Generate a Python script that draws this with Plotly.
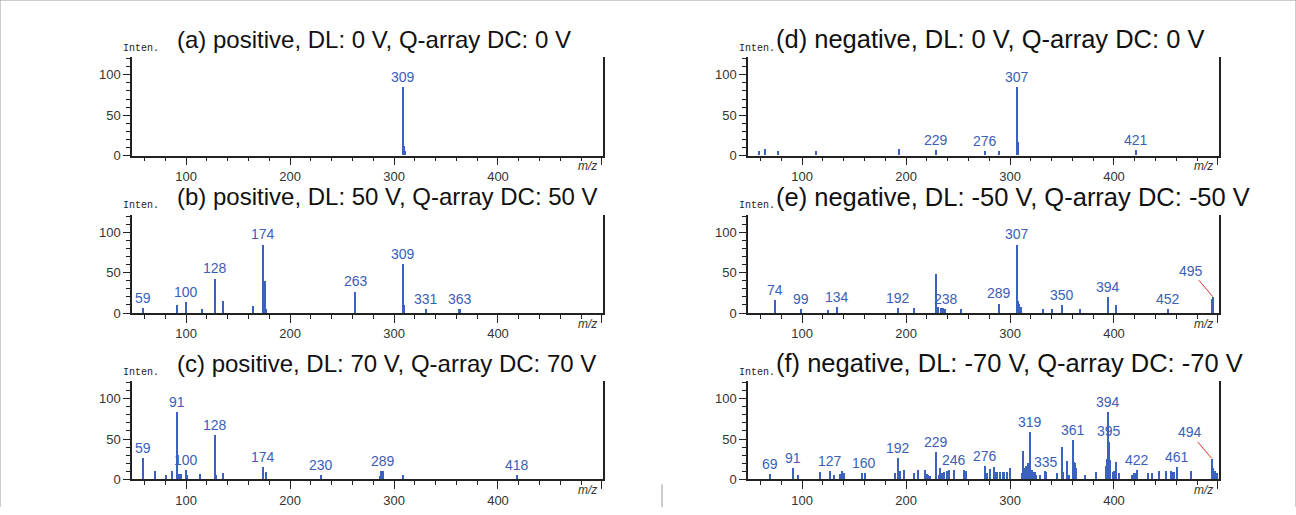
import plotly.graph_objects as go

# ---------------- data ----------------
titles = [
    "(a) positive, DL: 0 V, Q-array DC: 0 V",
    "(b) positive, DL: 50 V, Q-array DC: 50 V",
    "(c) positive, DL: 70 V, Q-array DC: 70 V",
    "(d) negative, DL: 0 V, Q-array DC: 0 V",
    "(e) negative, DL: -50 V, Q-array DC: -50 V",
    "(f) negative, DL: -70 V, Q-array DC: -70 V",
]

a_mz = [309, 310, 311]
a_int = [85, 12, 5]
a_lab = [309]

b_mz = [59, 91, 100, 115, 128, 136, 164, 174, 175, 176, 177, 263, 309, 310, 331, 363, 364]
b_int = [6.5, 10.5, 14, 5, 43, 15, 9, 85, 15, 40, 5, 27, 61, 10.5, 5, 5, 5]
b_lab = [59, 100, 128, 174, 263, 309, 331, 363]

c_mz = [59, 70, 81, 87, 91, 93, 95, 100, 101, 113, 128, 129, 136, 174, 177, 230, 287, 288, 289, 309, 418]
c_int = [27, 11, 5, 10, 84, 7, 6.5, 12, 5, 7, 55, 6, 8.5, 16, 9, 6, 4, 11, 11, 5, 5]
c_lab = [59, 91, 100, 128, 174, 230, 289, 418]

d_mz = [59, 64, 77, 113, 193, 229, 276, 289, 307, 308, 421]
d_int = [5.7, 8, 5.7, 5.7, 7.7, 6.5, 5.7, 6, 84.5, 17, 7.3]
d_lab = [229, 276, 307, 421]

e_mz = [74, 99, 125, 134, 192, 208, 229, 231, 234, 236, 238, 253, 289, 307, 308, 309, 310, 311,
        332, 340, 350, 367, 394, 402, 452, 494, 495]
e_int = [16.7, 5.3, 4.5, 8, 6.5, 6.5, 49, 8, 6.5, 6.5, 5.6, 5.3, 12.2, 85, 15, 12, 7, 8,
         6, 5.3, 10.6, 5.3, 20, 10.6, 5.6, 18, 20.3]
e_lab = [74, 99, 134, 192, 238, 289, 307, 350, 394, 452]
e_arrow = [495]

f_mz = [69, 91, 96, 117, 127, 131, 137, 138, 140, 158, 161, 189, 192, 194, 198, 208, 212, 218,
        220, 221, 223, 229, 232, 233, 235, 237, 239, 241, 246, 256, 258,
        276, 277, 278, 281, 285, 287, 288, 290, 293, 294, 297, 300, 312, 313, 314, 315, 317, 319,
        320, 321, 323, 324, 325, 329, 334, 335, 345, 350, 351, 355, 357, 361, 362, 363, 364, 372,
        383, 392, 393, 394, 395, 396, 399, 400, 402, 405, 417, 419, 421, 422, 433, 437, 443, 450,
        455, 456, 458, 461, 474, 494, 495, 497, 499]
f_int = [6.5, 14, 5, 9, 10, 5, 7, 10, 8.5, 8.5, 8.5, 7.7, 27, 11, 12, 7.7, 12, 12,
         6.5, 5, 4.5, 34.5, 5, 14, 8, 9, 11, 12, 12, 12, 10.5,
         17, 5, 8, 13, 16, 9, 9.7, 9.7, 9, 9, 9, 14, 8, 35, 14, 17, 20, 58.5,
         11, 12, 9.7, 9, 5.7, 5, 10, 9, 8, 40, 9, 23, 5.7, 49, 22, 21, 13.8, 5.7,
         9, 17, 25, 84, 47, 24, 9.7, 11, 22, 8, 5, 8, 8, 12, 8, 8, 10, 10,
         11, 9.7, 9, 15, 11, 26, 14, 10, 8]
f_lab = [69, 91, 127, 160, 192, 229, 246, 276, 319, 335, 361, 394, 395, 422, 461]
f_arrow = [494]

panels = [
    (a_mz, a_int, a_lab, []),
    (b_mz, b_int, b_lab, []),
    (c_mz, c_int, c_lab, []),
    (d_mz, d_int, d_lab, []),
    (e_mz, e_int, e_lab, e_arrow),
    (f_mz, f_int, f_lab, f_arrow),
]

x_range = [48, 501]
y_range = [0, 122]
x_tickvals = [100, 200, 300, 400, 500]
x_ticktext = ["100", "200", "300", "400", ""]
y_tickvals = [0, 50, 100]

# ---------------- layout geometry (pixels) ----------------
W, H = 1296, 515
col_x = [(132, 603), (748, 1219)]
row_zero = [158, 318, 487]
px_per_unit_y = 0.82
title_x = [175, 774]
title_size = [24, 25.5]

BAR = "#3b62bd"
LABEL = "#3a60b8"
FONT = "Liberation Sans, Arial, sans-serif"

fig = go.Figure()
annotations = []
shapes = []


def lookup(mz_list, int_list, m):
    best = min(range(len(mz_list)), key=lambda i: abs(mz_list[i] - m))
    return mz_list[best], int_list[best]


for i, (mz, inten, labs, arrows) in enumerate(panels):
    col = i // 3
    row = i % 3
    n = i + 1
    xa = "x" if n == 1 else f"x{n}"
    ya = "y" if n == 1 else f"y{n}"
    x0, x1 = col_x[col]
    z = row_zero[row]
    top = z - (y_range[1] - y_range[0]) * px_per_unit_y
    fig.add_trace(go.Bar(x=mz, y=inten, width=1.1, marker=dict(color=BAR, line=dict(width=0)),
                         xaxis=xa, yaxis=ya, showlegend=False, hoverinfo="x+y"))
    axkey = "xaxis" if n == 1 else f"xaxis{n}"
    aykey = "yaxis" if n == 1 else f"yaxis{n}"
    fig.update_layout(**{
        axkey: dict(domain=[x0 / W, x1 / W], range=x_range, anchor=ya,
                    showline=True, linecolor="#222", linewidth=1.5,
                    ticks="outside", ticklen=8, tickwidth=1, tickcolor="#222",
                    tickvals=x_tickvals, ticktext=x_ticktext,
                    minor=dict(dtick=20, tick0=0, ticklen=4, tickcolor="#222", ticks="outside", showgrid=False),
                    showgrid=False, zeroline=False,
                    tickfont=dict(family=FONT, size=13, color="#333")),
        aykey: dict(domain=[1 - z / H, 1 - top / H], range=y_range, anchor=xa,
                    showline=True, linecolor="#222", linewidth=1.5, mirror=True,
                    ticks="outside", ticklen=7, tickwidth=1, tickcolor="#222",
                    tickvals=y_tickvals,
                    minor=dict(dtick=10, tick0=0, ticklen=4, tickcolor="#222", ticks="outside", showgrid=False),
                    showgrid=False, zeroline=False,
                    tickfont=dict(family=FONT, size=13, color="#333")),
    })
    for m in labs:
        px_, py_ = lookup(mz, inten, m)
        annotations.append(dict(x=m, y=py_, xref=xa, yref=ya, text=str(m), showarrow=False,
                                yanchor="bottom", xanchor="center", yshift=0,
                                font=dict(family=FONT, size=14, color=LABEL)))
    for m in arrows:
        px_, py_ = lookup(mz, inten, m)
        annotations.append(dict(x=m, y=py_, xref=xa, yref=ya, text=str(m), showarrow=True,
                                arrowhead=0, arrowwidth=1, arrowcolor="#e03030",
                                ax=-22, ay=-26, standoff=0,
                                font=dict(family=FONT, size=14, color=LABEL)))
    # panel title
    annotations.append(dict(x=title_x[col] / W, y=1 - (z - 118) / H, xref="paper", yref="paper",
                            text=titles[i], showarrow=False, xanchor="left", yanchor="middle",
                            font=dict(family=FONT, size=title_size[col], color="#111")))
    # Inten. label
    annotations.append(dict(x=(x0 - 11) / W, y=1 - (z - 109) / H, xref="paper", yref="paper",
                            text="Inten.", showarrow=False, xanchor="left", yanchor="middle",
                            font=dict(family="Liberation Mono, monospace", size=10, color="#222")))
    # m/z label
    annotations.append(dict(x=(x1 - 4) / W, y=1 - (z + 11) / H, xref="paper", yref="paper",
                            text="<i>m/z</i>", showarrow=False, xanchor="right", yanchor="middle",
                            font=dict(family=FONT, size=12, color="#333")))

# outer frame (top, left, right) and short divider at bottom
FRAME = "#999"
shapes.append(dict(type="line", xref="paper", yref="paper", x0=0, y0=1, x1=1, y1=1,
                   line=dict(color=FRAME, width=1)))
shapes.append(dict(type="line", xref="paper", yref="paper", x0=0, y0=0, x1=0, y1=1,
                   line=dict(color=FRAME, width=1)))
shapes.append(dict(type="line", xref="paper", yref="paper", x0=1, y0=0, x1=1, y1=1,
                   line=dict(color=FRAME, width=1)))
shapes.append(dict(type="line", xref="paper", yref="paper", x0=662 / W, y0=0, x1=662 / W, y1=1 - 492 / H,
                   line=dict(color=FRAME, width=1)))

fig.update_layout(width=W, height=H, margin=dict(l=0, r=0, t=0, b=0),
                  paper_bgcolor="white", plot_bgcolor="white",
                  bargap=0, annotations=annotations, shapes=shapes,
                  font=dict(family=FONT))

fig.write_html("out.html",
               config={"responsive": False, "displayModeBar": False},
               post_script="document.body.style.margin='0';document.body.style.overflow='hidden';")
